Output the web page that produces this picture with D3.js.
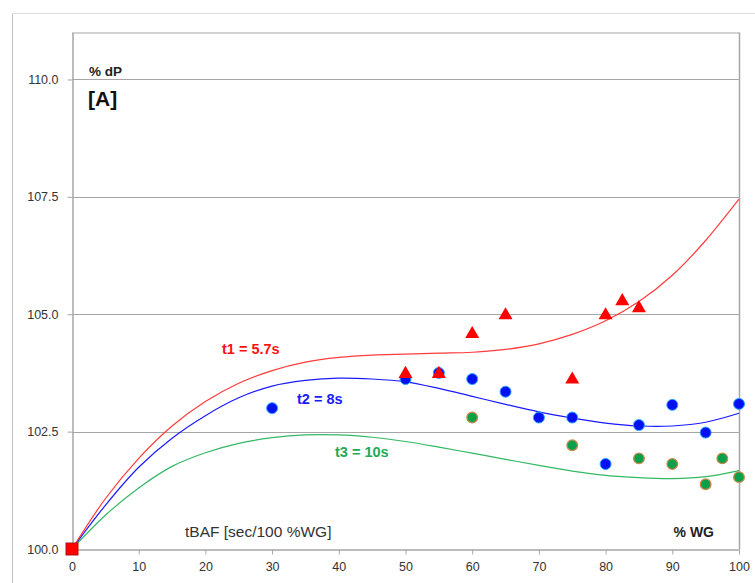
<!DOCTYPE html>
<html>
<head>
<meta charset="utf-8">
<style>
    body { margin: 0; background: #fff; font-family: "Liberation Sans", Arial, sans-serif; }
    .axis text { font-size: 12.5px; fill: #333; font-family: "Liberation Sans", Arial, sans-serif; }
    .axis path, .axis line { stroke: #a6a6a6; }
</style>
</head>
<body>
<svg id="chart" width="755" height="583"></svg>
<script src="https://d3js.org/d3.v7.min.js"></script>
<script>
    // tick values
    let xTicks = [0, 10, 20, 30, 40, 50, 60, 70, 80, 90, 100]
    let yTicks = [100, 102.5, 105, 107.5, 110]

    // trend curves
    let trendX  = [0, 5, 10, 15, 20, 25, 30, 35, 40, 45, 50, 55, 60, 65, 70, 75, 80, 85, 90, 95, 100]
    let trendT1 = [100, 101.07, 101.93, 102.62, 103.14, 103.53, 103.8, 103.98, 104.08, 104.13, 104.15, 104.17, 104.19, 104.25, 104.37, 104.57, 104.86, 105.27, 105.83, 106.57, 107.45]
    let trendT2 = [100, 100.93, 101.74, 102.36, 102.84, 103.22, 103.47, 103.59, 103.64, 103.62, 103.56, 103.42, 103.25, 103.08, 102.92, 102.79, 102.68, 102.62, 102.62, 102.7, 102.89]
    let trendT3 = [100, 100.72, 101.3, 101.76, 102.05, 102.25, 102.37, 102.43, 102.43, 102.38, 102.29, 102.17, 102.04, 101.91, 101.78, 101.66, 101.57, 101.52, 101.5, 101.54, 101.67]

    // measured points
    let originX = [0]
    let originY = [100]
    let t1X = [50, 55, 60, 65, 75, 80, 82.5, 85]
    let t1Y = [103.75, 103.75, 104.6, 105.0, 103.63, 105.0, 105.3, 105.15]
    let t2X = [30, 50, 55, 60, 65, 70, 75, 80, 85, 90, 95, 100]
    let t2Y = [103.0, 103.62, 103.75, 103.62, 103.35, 102.8, 102.8, 101.81, 102.64, 103.07, 102.48, 103.09]
    let t3X = [60, 75, 85, 90, 95, 97.5, 100]
    let t3Y = [102.8, 102.21, 101.93, 101.81, 101.38, 101.93, 101.53]

    let svg = d3.select("#chart")

    let plotLeft = 72, plotRight = 739, plotTop = 32.5, plotBottom = 549

    let xScale = d3.scaleLinear().domain([0, 100]).range([plotLeft, plotRight])
    let yScale = d3.scaleLinear().domain([100, 111]).range([plotBottom, plotTop])

    // outer chart frame (cropped)
    svg.append("line").attr("x1", 12.5).attr("x2", 12.5).attr("y1", 13).attr("y2", 583)
        .attr("stroke", "#bdbdbd")
    svg.append("line").attr("x1", 12).attr("x2", 755).attr("y1", 13.5).attr("y2", 13.5)
        .attr("stroke", "#e0e0e0")

    // gridlines
    svg.append("g").selectAll("line")
        .data(yTicks.filter(d => d > 100))
        .enter().append("line")
        .attr("x1", plotLeft).attr("x2", plotRight)
        .attr("y1", d => Math.round(yScale(d)) + 0.5)
        .attr("y2", d => Math.round(yScale(d)) + 0.5)
        .attr("stroke", "#a6a6a6")

    // plot frame top / right
    svg.append("line").attr("x1", plotLeft).attr("x2", plotRight + 0.5).attr("y1", plotTop + 0.5).attr("y2", plotTop + 0.5)
        .attr("stroke", "#a6a6a6").attr("stroke-width", 1.2)
    svg.append("line").attr("x1", plotRight + 0.5).attr("x2", plotRight + 0.5).attr("y1", plotTop).attr("y2", plotBottom)
        .attr("stroke", "#a6a6a6").attr("stroke-width", 1.5)

    // axes
    svg.append("g").attr("class", "axis")
        .attr("transform", `translate(0,${plotBottom + 0.5})`)
        .call(d3.axisBottom(xScale).tickValues(xTicks).tickSize(5).tickSizeOuter(0).tickPadding(8))
    svg.append("g").attr("class", "axis")
        .attr("transform", `translate(${plotLeft + 0.5},0)`)
        .call(d3.axisLeft(yScale).tickValues(yTicks).tickFormat(d3.format(".1f")).tickSize(5).tickSizeOuter(0).tickPadding(9))
    svg.selectAll(".axis path").attr("stroke-width", 1.5)

    // trend lines
    let line = d3.line()
        .x((d, i) => xScale(trendX[i]))
        .y(d => yScale(d))
        .curve(d3.curveCatmullRom)

    let curves = [
        {vals: trendT3, color: "#33b864"},
        {vals: trendT2, color: "#1a1aff"},
        {vals: trendT1, color: "#ff3b3b"}
    ]
    svg.append("g").selectAll("path")
        .data(curves)
        .enter().append("path")
        .attr("d", d => line(d.vals))
        .attr("fill", "none")
        .attr("stroke", d => d.color)
        .attr("stroke-width", 1.2)

    // green points
    svg.append("g").selectAll("circle")
        .data(t3X)
        .enter().append("circle")
        .attr("cx", d => xScale(d))
        .attr("cy", (d, i) => yScale(t3Y[i]))
        .attr("r", 5.3)
        .attr("fill", "#08a04a")
        .attr("stroke", "#c8894a")
        .attr("stroke-width", 1.3)

    // blue points
    svg.append("g").selectAll("circle")
        .data(t2X)
        .enter().append("circle")
        .attr("cx", d => xScale(d))
        .attr("cy", (d, i) => yScale(t2Y[i]))
        .attr("r", 5.5)
        .attr("fill", "#0010f0")
        .attr("stroke", "#2aa8ff")
        .attr("stroke-width", 1)

    // red triangles
    let tri = d3.symbol().type(d3.symbolTriangle).size(85)
    svg.append("g").selectAll("path")
        .data(t1X)
        .enter().append("path")
        .attr("d", tri)
        .attr("transform", (d, i) => `translate(${xScale(d)},${yScale(t1Y[i]) + 1})`)
        .attr("fill", "#ff0000")

    // origin square
    svg.append("g").selectAll("rect")
        .data(originX)
        .enter().append("rect")
        .attr("x", d => xScale(d) - 6)
        .attr("y", (d, i) => yScale(originY[i]) - 6)
        .attr("width", 12).attr("height", 12)
        .attr("fill", "#ff0000")
        .attr("stroke", "#b01010")
        .attr("stroke-width", 1)

    // labels
    svg.append("text").attr("x", 89).attr("y", 76)
        .attr("font-size", 13.5).attr("font-weight", "bold").attr("fill", "#222")
        .text("% dP")
    svg.append("text").attr("x", 88).attr("y", 106)
        .attr("font-size", 21).attr("font-weight", "bold").attr("fill", "#111")
        .text("[A]")
    svg.append("text").attr("x", 185).attr("y", 537)
        .attr("font-size", 15.5).attr("fill", "#333")
        .text("tBAF [sec/100 %WG]")
    svg.append("text").attr("x", 714).attr("y", 537).attr("text-anchor", "end")
        .attr("font-size", 14).attr("font-weight", "bold").attr("fill", "#222")
        .text("% WG")

    svg.append("text").attr("x", 222).attr("y", 354)
        .attr("font-size", 14.5).attr("font-weight", "bold").attr("fill", "#ff1010")
        .text("t1 = 5.7s")
    svg.append("text").attr("x", 297).attr("y", 404)
        .attr("font-size", 14.5).attr("font-weight", "bold").attr("fill", "#1a1aff")
        .text("t2 = 8s")
    svg.append("text").attr("x", 335).attr("y", 457)
        .attr("font-size", 14.5).attr("font-weight", "bold").attr("fill", "#1faa55")
        .text("t3 = 10s")
</script>
</body>
</html>
